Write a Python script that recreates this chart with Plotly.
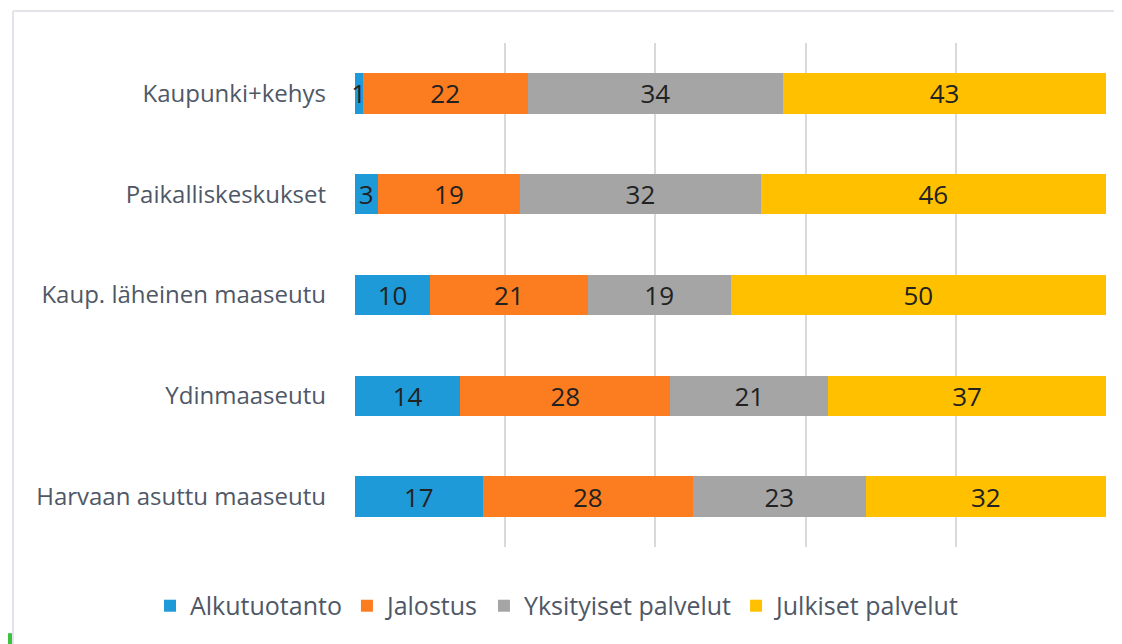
import plotly.graph_objects as go

categories = ["Kaupunki+kehys", "Paikalliskeskukset", "Kaup. läheinen maaseutu",
              "Ydinmaaseutu", "Harvaan asuttu maaseutu"]
series_names = ["Alkutuotanto", "Jalostus", "Yksityiset palvelut", "Julkiset palvelut"]
alkutuotanto = [1, 3, 10, 14, 17]
jalostus = [22, 19, 21, 28, 28]
yksityiset = [34, 32, 19, 21, 23]
julkiset = [43, 46, 50, 37, 32]
colors = ["#1f9ad8", "#fc7d20", "#a5a5a5", "#ffc000"]

FONT = "'Open Sans', sans-serif"
TXT = "#4f5866"
fig = go.Figure()
for name, vals, col in zip(series_names, [alkutuotanto, jalostus, yksityiset, julkiset], colors):
    fig.add_trace(go.Bar(
        y=categories, x=vals, name=name, orientation="h",
        marker=dict(color=col, line=dict(width=0)),
        text=[str(v) for v in vals], textposition="inside", textangle=0,
        insidetextanchor="middle",
        textfont=dict(size=26, color="#222222", family=FONT),
        cliponaxis=False,
    ))

fig.update_layout(
    barmode="stack", bargap=0.6,
    width=1114, height=636,
    margin=dict(l=347, r=16, t=35, b=97),
    paper_bgcolor="white", plot_bgcolor="white",
    font=dict(family=FONT, color=TXT, size=24),
    uniformtext=dict(minsize=26, mode="show"),
    xaxis=dict(range=[0, 100], dtick=20, showticklabels=False, showgrid=True,
               gridcolor="#d9d9d9", gridwidth=1.5, zeroline=False, showline=False, fixedrange=True),
    yaxis=dict(autorange="reversed", showgrid=False, showline=False, ticks="",
               ticklabelstandoff=28, tickfont=dict(size=24, color=TXT, family=FONT)),
    legend=dict(orientation="h", x=-0.273, xanchor="left", y=-0.117, yanchor="middle",
                font=dict(size=25, color=TXT, family=FONT), traceorder="normal"),
    showlegend=True,
    shapes=[
        dict(type="line", xref="paper", yref="paper", x0=-0.4554, x1=1.1, y0=1.0635, y1=1.0635,
             line=dict(color="#e3e3ea", width=2)),
        dict(type="line", xref="paper", yref="paper", x0=-0.4554, x1=-0.4554, y0=1.0635, y1=-0.2,
             line=dict(color="#e3e3ea", width=2)),
        dict(type="rect", xref="paper", yref="paper", x0=-0.4727, x1=-0.4567, y0=-0.171, y1=-0.2,
             fillcolor="#3cc23c", line=dict(width=0)),
    ],
)
fig.write_html("out.html")
